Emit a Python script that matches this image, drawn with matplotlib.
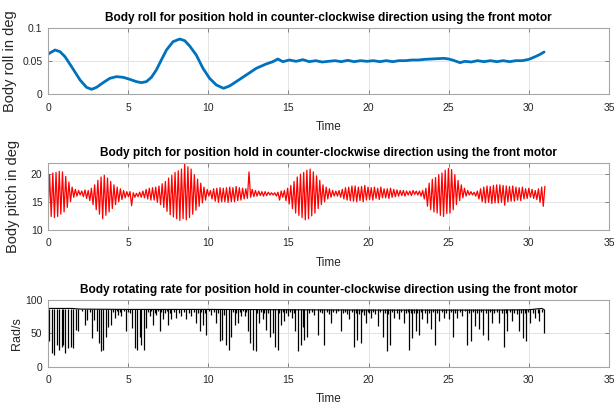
import numpy as np
import matplotlib.pyplot as plt

# body roll (deg)
roll_t = [0.0, 0.08, 0.44, 0.75, 1.06, 1.47, 2.0, 2.4, 2.72, 3.03, 3.44, 3.86, 4.27,
          4.69, 5.1, 5.52, 5.83, 6.14, 6.45, 6.76, 7.07, 7.39, 7.8, 8.22, 8.53, 8.84,
          9.25, 9.67, 10.08, 10.5, 10.95, 11.33, 11.74, 12.37, 12.99, 13.61, 14.03,
          14.34, 14.65, 15.06, 15.48, 15.9, 16.3, 16.7, 17.1, 17.5, 17.9, 18.3, 18.7,
          19.1, 19.5, 19.9, 20.3, 20.7, 21.1, 21.5, 21.9, 22.3, 22.7, 23.1, 23.5,
          23.9, 24.3, 24.7, 25.0, 25.3, 25.7, 26.0, 26.4, 26.8, 27.2, 27.6, 28.0,
          28.4, 28.8, 29.2, 29.6, 30.0, 30.4, 30.7, 30.95]
roll_v = [0.060, 0.0615, 0.0665, 0.064, 0.0565, 0.0415, 0.0215, 0.0105, 0.0075, 0.0105,
          0.0175, 0.024, 0.0265, 0.0255, 0.0225, 0.019, 0.0175, 0.019, 0.0255, 0.0365,
          0.0515, 0.0665, 0.079, 0.083, 0.0805, 0.0725, 0.059, 0.039, 0.024, 0.014,
          0.009, 0.0125, 0.019, 0.029, 0.039, 0.0455, 0.049, 0.053, 0.049, 0.0515,
          0.0495, 0.052, 0.049, 0.0505, 0.0485, 0.0495, 0.0505, 0.049, 0.051, 0.049,
          0.0505, 0.0495, 0.0505, 0.049, 0.0505, 0.049, 0.0505, 0.0505, 0.0515, 0.0515,
          0.0525, 0.053, 0.0535, 0.054, 0.053, 0.051, 0.0475, 0.0495, 0.0485, 0.0505,
          0.049, 0.0505, 0.049, 0.0505, 0.049, 0.0505, 0.0505, 0.0525, 0.0565, 0.060,
          0.0635]

# body pitch (deg): peak / trough of each oscillation, 5 per second, 0..31 s
pitch_hi = [19.8, 20.1, 20.2, 20.4, 20.3,  19.5, 18.5, 17.6, 17.2, 17.0,
            16.9, 17.1, 17.0, 17.4, 18.0,  18.8, 19.4, 19.7, 19.2, 18.6,
            18.0, 17.6, 17.3, 17.0, 16.8,  16.8, 16.6, 16.5, 16.7, 16.9,
            17.2, 17.4, 17.5, 17.6, 17.8,  18.2, 18.6, 19.2, 19.7, 20.2,
            20.5, 20.8, 21.8, 21.2, 20.8,  19.8, 19.0, 18.3, 17.6, 17.2,
            17.0, 17.3, 17.4, 17.5, 17.4,  17.5, 17.6, 17.5, 17.7, 17.5,
            17.4, 17.3, 20.3, 17.2, 17.0,  16.9, 16.8, 16.8, 16.7, 16.6,
            16.6, 16.7, 16.9, 17.0, 17.4,  17.9, 18.6, 19.4, 19.9, 20.2,
            20.6, 20.8, 20.3, 19.6, 18.8,  18.0, 17.6, 17.3, 17.0, 16.9,
            17.0, 17.2, 17.5, 17.6, 17.8,  17.8, 17.6, 17.7, 17.9, 17.6,
            17.5, 17.6, 17.4, 17.6, 17.3,  17.3, 17.4, 17.2, 17.1, 17.0,
            17.0, 16.9, 16.9, 17.0, 16.9,  16.9, 17.0, 17.4, 18.3, 19.0,
            19.3, 19.8, 20.1, 20.6, 20.9,  20.7, 19.8, 18.8, 18.0, 17.4,
            17.0, 16.8, 16.7, 16.9, 17.3,  17.6, 17.8, 17.7, 17.9, 18.0,
            18.0, 17.9, 17.8, 17.7, 17.8,  17.6, 17.5, 17.6, 17.3, 17.4,
            17.2, 17.0, 17.3, 17.6, 17.7]
pitch_lo = [12.6, 12.4, 12.2, 12.4, 12.8,  13.2, 14.0, 15.0, 15.8, 16.0,
            16.2, 15.9, 15.6, 15.2, 14.5,  13.6, 12.8, 12.0, 12.6, 13.2,
            13.8, 14.5, 15.0, 15.4, 15.7,  15.9, 14.3, 15.8, 15.9, 15.8,
            15.7, 15.5, 15.3, 15.3, 14.9,  14.5, 14.0, 13.3, 12.7, 12.3,
            12.0, 11.7, 12.0, 11.8, 12.2,  12.8, 13.5, 14.2, 14.8, 15.3,
            16.0, 15.5, 15.1, 14.9, 15.0,  15.0, 14.9, 15.0, 15.0, 15.2,
            15.3, 15.5, 15.6, 15.8, 15.9,  16.0, 16.1, 16.0, 16.1, 16.2,
            16.2, 16.0, 15.3, 15.8, 15.2,  14.6, 13.8, 13.0, 12.6, 12.2,
            11.8, 12.0, 12.5, 13.0, 13.8,  14.5, 15.0, 15.5, 15.8, 16.0,
            16.0, 15.8, 15.5, 15.3, 15.2,  15.1, 15.0, 15.2, 15.0, 15.3,
            15.4, 15.3, 15.6, 15.4, 15.7,  15.7, 15.6, 15.8, 15.9, 16.0,
            16.1, 16.0, 16.2, 16.1, 16.3,  16.2, 16.0, 15.5, 14.2, 13.6,
            13.2, 13.0, 12.6, 12.4, 12.9,  13.0, 13.6, 14.5, 15.2, 15.7,
            16.0, 16.2, 16.2, 16.0, 15.5,  15.0, 14.8, 14.9, 14.7, 14.8,
            14.8, 14.9, 14.4, 15.0, 15.1,  15.1, 15.3, 15.2, 15.5, 15.6,
            15.8, 15.6, 15.4, 14.9, 14.2]

# body rotating rate (rad/s): time and bottom of each downward spike
rate_t = [0.08, 0.23, 0.4, 0.54, 0.68, 0.85, 0.95, 1.06, 1.27, 1.41, 1.58, 1.74, 1.89,
          2.1, 2.3, 2.45, 2.6, 2.72, 2.86, 3.03, 3.2, 3.28, 3.44, 3.61, 3.76, 3.96,
          4.07, 4.17, 4.28, 4.38, 4.48, 4.58, 4.72, 4.85, 4.98, 5.1, 5.27, 5.41, 5.56,
          5.73, 5.83, 5.98, 6.14, 6.25, 6.35, 6.45, 6.56, 6.66, 6.76, 6.87, 6.97, 7.08,
          7.18, 7.3, 7.4, 7.49, 7.6, 7.7, 7.85, 8.0, 8.15, 8.32, 8.47, 8.63, 8.78, 8.94,
          9.1, 9.25, 9.36, 9.46, 9.57, 9.67, 9.78, 9.88, 10.03, 10.19, 10.33, 10.46,
          10.58, 10.7, 10.87, 11.0, 11.12, 11.29, 11.43, 11.54, 11.64, 11.75, 11.85,
          11.95, 12.05, 12.16, 12.26, 12.37, 12.47, 12.61, 12.78, 12.95, 13.05, 13.15,
          13.28, 13.4, 13.5, 13.61, 13.74, 13.86, 14.02, 14.19, 14.34, 14.44, 14.54,
          14.65, 14.75, 14.86, 14.96, 15.1, 15.23, 15.34, 15.44, 15.62, 15.79, 15.9,
          16.0, 16.15, 16.3, 16.45, 16.6, 16.83, 16.95, 17.1, 17.24, 17.38, 17.52,
          17.66, 17.8, 17.95, 18.1, 18.28, 18.4, 18.55, 18.67, 18.8, 18.95, 19.1, 19.2,
          19.3, 19.4, 19.5, 19.6, 19.71, 19.83, 19.95, 20.05, 20.15, 20.3, 20.43,
          20.56, 20.7, 20.87, 21.0, 21.12, 21.22, 21.33, 21.46, 21.6, 21.75, 21.9,
          22.05, 22.2, 22.33, 22.43, 22.53, 22.64, 22.74, 22.85, 22.95, 23.05, 23.15,
          23.25, 23.36, 23.5, 23.67, 23.78, 23.88, 24.0, 24.15, 24.28, 24.4, 24.55,
          24.71, 24.86, 25.02, 25.15, 25.27, 25.4, 25.54, 25.7, 25.85, 26.0, 26.16,
          26.26, 26.37, 26.5, 26.64, 26.77, 26.89, 27.02, 27.14, 27.3, 27.47, 27.6,
          27.72, 27.85, 28.0, 28.13, 28.3, 28.44, 28.55, 28.65, 28.8, 28.96, 29.1,
          29.25, 29.38, 29.5, 29.63, 29.73, 29.83, 29.96, 30.1, 30.25, 30.41, 30.55,
          30.66, 30.8, 30.93]
rate_min = [38, 21, 18, 33, 25, 29, 33, 20, 28, 29, 28, 55, 53,
            83, 63, 70, 82, 43, 70, 53, 35, 23, 25, 45, 60, 63,
            82, 73, 84, 78, 82, 76, 83, 53, 82, 81, 58, 28, 25,
            45, 33, 25, 58, 82, 76, 83, 63, 81, 78, 83, 53, 82,
            71, 80, 84, 63, 81, 71, 82, 73, 80, 76, 82, 71, 81, 76,
            82, 66, 80, 53, 82, 63, 80, 48, 83, 78, 82, 66,
            80, 38, 40, 78, 33, 25, 45, 82, 63, 80, 66,
            82, 76, 83, 76, 82, 53, 35, 25, 23, 80, 66,
            82, 71, 80, 55, 81, 45, 50, 30, 25, 80, 63,
            82, 68, 81, 76, 82, 73, 80, 53, 23, 33, 60,
            40, 45, 80, 82, 78, 48, 82, 80, 33, 82, 79,
            66, 82, 80, 83, 53, 81, 82, 79, 71, 82, 30, 80,
            40, 79, 35, 82, 78, 66, 82, 80, 73, 82, 79,
            61, 82, 45, 80, 23, 79, 33, 82, 73, 81, 71,
            82, 66, 80, 82, 25, 80, 43, 81, 53, 80, 48,
            82, 71, 81, 66, 80, 56, 82, 33, 81, 68, 82,
            73, 81, 71, 82, 45, 80, 73, 82, 76, 83, 33,
            80, 38, 82, 61, 80, 56, 82, 48, 81, 40, 82,
            66, 80, 82, 66, 81, 30, 80, 53, 82, 68, 81,
            79, 53, 80, 43, 80, 38, 82, 66, 81, 73, 80,
            68, 82, 50]
rate_top_t = [0.0, 1.5, 2.0, 5.0, 10.0, 15.0, 20.0, 25.0, 28.0, 30.0, 30.8, 30.93]
rate_top_v = [87.5, 87.5, 86.5, 86.0, 86.0, 85.5, 85.0, 85.0, 85.0, 85.5, 87.5, 86.0]

title = 'for position hold in counter-clockwise direction using the front motor'

plt.rcParams['font.family'] = ['Liberation Sans', 'DejaVu Sans']
plt.rcParams['axes.edgecolor'] = '#a6a6a6'
plt.rcParams['axes.linewidth'] = 0.8

fig = plt.figure(figsize=(6.15, 4.09), dpi=100)

x0 = 48 / 615
w = (609 - 48) / 615
h = 66.6 / 409
ax1 = fig.add_axes([x0, 1 - 94.3 / 409, w, h])
ax2 = fig.add_axes([x0, 1 - 230.0 / 409, w, h])
ax3 = fig.add_axes([x0, 1 - 366.7 / 409, w, h])

# roll
ax1.plot(roll_t, roll_v, color='#0072BD', lw=2.0, solid_capstyle='round')
ax1.set_ylim(0, 0.1)
ax1.set_yticks([0, 0.05, 0.1])
ax1.set_yticklabels(['0', '0.05', '0.1'])
ax1.set_title('Body roll ' + title, fontsize=8.6, fontweight='bold', pad=5)
ax1.set_ylabel('Body roll in deg', fontsize=10.5, color='#262626')
ax1.yaxis.set_label_coords(-0.055, 0.5)

# pitch
pitch = np.column_stack([pitch_lo, pitch_hi]).ravel()
pitch_t = np.linspace(0, 31, len(pitch))
ax2.plot(pitch_t, pitch, color='#ff0000', lw=0.9)
ax2.set_ylim(10, 21.8)
ax2.set_yticks([10, 15, 20])
ax2.set_title('Body pitch ' + title, fontsize=8.6, fontweight='bold', pad=5)
ax2.set_ylabel('Body pitch in deg', fontsize=10.5, color='#262626')
ax2.yaxis.set_label_coords(-0.05, 0.5)

# rotating rate
ax3.plot(rate_top_t, rate_top_v, color='black', lw=0.8)
ax3.vlines(rate_t, rate_min, 86, color='black', lw=0.9)
ax3.set_ylim(0, 100)
ax3.set_yticks([0, 50, 100])
ax3.set_title('Body rotating rate ' + title, fontsize=8.6, fontweight='bold', pad=5)
ax3.set_ylabel('Rad/s', fontsize=9, color='#262626')
ax3.yaxis.set_label_coords(-0.045, 0.5)

for ax in (ax1, ax2, ax3):
    ax.set_xlim(0, 35)
    ax.set_xticks(range(0, 36, 5))
    ax.grid(True, color='#e3e3e3', lw=0.7)
    ax.set_axisbelow(True)
    ax.tick_params(direction='in', length=3, width=0.7, color='#7f7f7f',
                   labelsize=7.5, labelcolor='#262626', top=True, right=True, pad=6)
    ax.tick_params(axis='y', pad=4)
    ax.set_xlabel('Time', fontsize=8.5, color='#262626', labelpad=6)

fig.savefig('out.png', dpi=100)
